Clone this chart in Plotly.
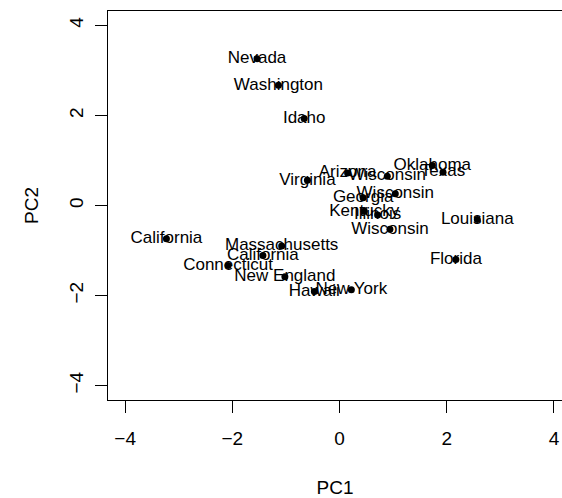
import plotly.graph_objects as go

states = ["Nevada", "Washington", "Idaho", "Virginia", "Arizona", "Wisconsin",
          "Oklahoma", "Texas", "Wisconsin", "Georgia", "Kentucky", "Illinois",
          "Wisconsin", "Louisiana", "Massachusetts", "California", "California",
          "Connecticut", "New England", "Hawaii", "New York", "Florida"]
pc1 = [-1.54, -1.14, -0.66, -0.60, 0.15, 0.89,
       1.73, 1.93, 1.04, 0.44, 0.46, 0.71,
       0.94, 2.57, -1.08, -3.23, -1.43,
       -2.08, -1.02, -0.47, 0.22, 2.17]
pc2 = [3.26, 2.67, 1.93, 0.56, 0.72, 0.65,
       0.89, 0.74, 0.26, 0.17, -0.13, -0.21,
       -0.53, -0.31, -0.90, -0.74, -1.11,
       -1.33, -1.58, -1.91, -1.87, -1.20]
ticks = [-4, -2, 0, 2, 4]
tick_text = ["\u22124", "\u22122", "0", "2", "4"]

font = "Liberation Sans, Arial, Helvetica, sans-serif"

fig = go.Figure()
fig.add_trace(go.Scatter(x=pc1, y=pc2, mode="markers",
                         marker=dict(color="black", size=7),
                         hoverinfo="skip", showlegend=False))
fig.add_trace(go.Scatter(x=pc1, y=pc2, mode="text", text=states,
                         textposition="middle center",
                         textfont=dict(family=font, size=17, color="black"),
                         showlegend=False))

fig.update_layout(
    width=562, height=498,
    margin=dict(l=108, r=0, t=11, b=98),
    paper_bgcolor="white", plot_bgcolor="white",
    font=dict(family=font, color="black"),
    xaxis=dict(range=[-4.32, 4.15], tickvals=ticks, ticktext=tick_text,
               showgrid=False, zeroline=False, showline=True, mirror=True,
               linecolor="black", linewidth=1, ticks="outside", ticklen=12,
               tickcolor="black", tickfont=dict(size=19), ticklabelstandoff=9,
               title=dict(text="PC1", font=dict(size=19), standoff=34)),
    yaxis=dict(range=[-4.32, 4.32], tickvals=ticks, ticktext=tick_text,
               showgrid=False, zeroline=False, showline=True, mirror=False,
               linecolor="black", linewidth=1, ticks="outside", ticklen=12,
               tickcolor="black", tickfont=dict(size=19), tickangle=-90,
               ticklabelstandoff=4,
               title=dict(text="PC2", font=dict(size=19), standoff=22)),
)
fig.write_html("out.html")
